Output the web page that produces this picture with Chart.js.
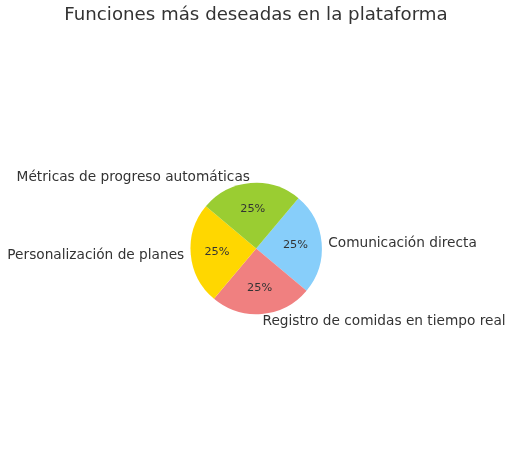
<!DOCTYPE html>
<html><head><meta charset="utf-8">
<script src="https://cdn.jsdelivr.net/npm/chart.js@4"></script>
<style>html,body{margin:0;padding:0;background:#fff;}#wrap{width:514px;height:474px;}</style>
</head><body><div id="wrap"><canvas id="c" width="514" height="474"></canvas></div>
<script>
const title = "Funciones más deseadas en la plataforma";
const categories = ["Comunicación directa", "Registro de comidas en tiempo real", "Personalización de planes", "Métricas de progreso automáticas"];
const values = [25, 25, 25, 25];
const colors = ["#87CEFA", "#F08080", "#FFD700", "#9ACD32"];

const FONT = "'DejaVu Sans', sans-serif";
const textPlugin = {
  id: 'textPlugin',
  afterDraw(chart) {
    const ctx = chart.ctx;
    const meta = chart.getDatasetMeta(0);
    const total = values.reduce((a, b) => a + b, 0);
    ctx.save();
    ctx.fillStyle = '#333333';
    ctx.textBaseline = 'middle';
    ctx.font = "18.2px " + FONT;
    ctx.textAlign = 'center';
    ctx.fillText(title, 256, 15);
    meta.data.forEach((arc, i) => {
      const p = arc.getProps(['x', 'y', 'startAngle', 'endAngle', 'outerRadius'], true);
      const a = (p.startAngle + p.endAngle) / 2;
      const r = p.outerRadius;
      const lx = p.x + Math.cos(a) * r * 1.1;
      const ly = p.y + Math.sin(a) * r * 1.1 + 1;
      ctx.font = "13.7px " + FONT;
      ctx.textAlign = Math.cos(a) >= 0 ? 'left' : 'right';
      ctx.fillText(categories[i], lx, ly);
      const px = p.x + Math.cos(a) * r * 0.6;
      const py = p.y + Math.sin(a) * r * 0.6;
      ctx.font = "11.3px " + FONT;
      ctx.textAlign = 'center';
      ctx.fillText(Math.round(values[i] / total * 100) + '%', px, py);
    });
    ctx.restore();
  }
};

new Chart(document.getElementById('c'), {
  type: 'pie',
  data: {
    labels: categories,
    datasets: [{ data: values, backgroundColor: colors, borderWidth: 0 }]
  },
  options: {
    responsive: false,
    animation: false,
    rotation: 40,
    layout: { padding: { left: 190.5, right: 192.1, top: 182.8, bottom: 159.8 } },
    plugins: { legend: { display: false }, tooltip: { enabled: false }, title: { display: false } }
  },
  plugins: [textPlugin]
});
</script></body></html>
